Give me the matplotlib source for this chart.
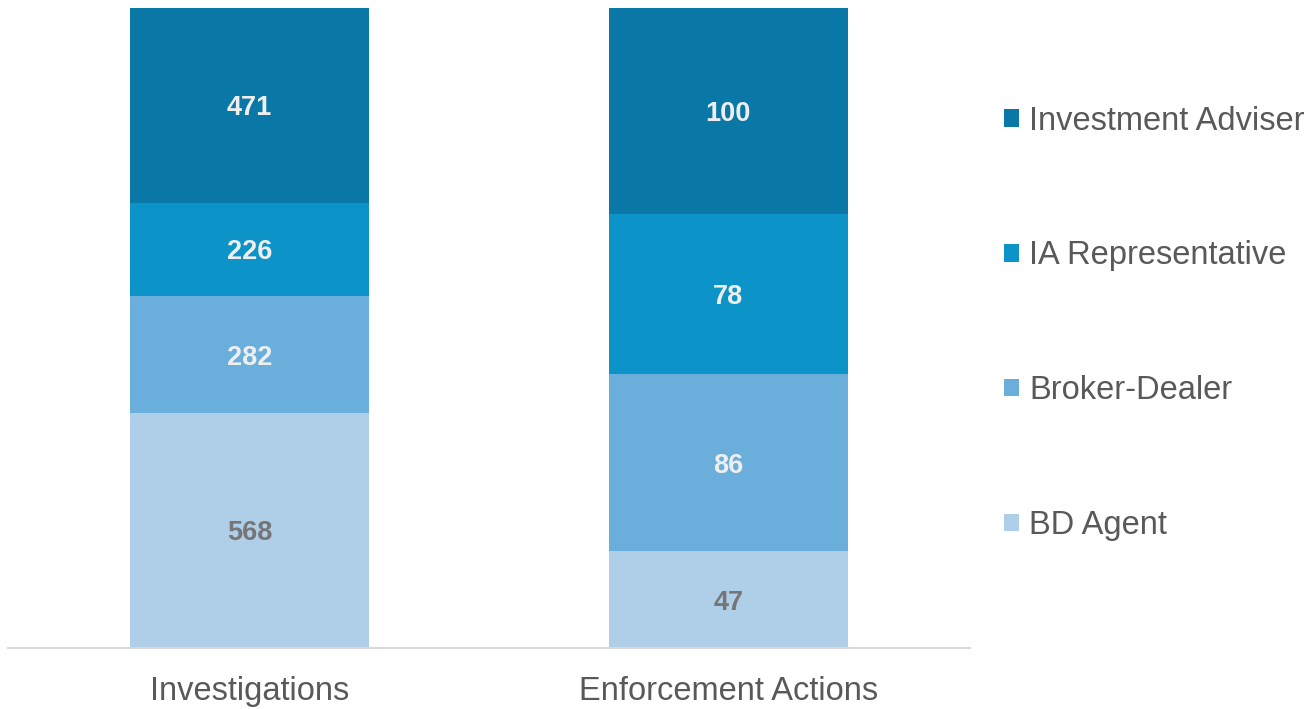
import matplotlib.pyplot as plt
import numpy as np

plt.rcParams['font.family'] = ['Liberation Sans', 'DejaVu Sans']

categories = ['Investigations', 'Enforcement Actions']
series_names = ['BD Agent', 'Broker-Dealer', 'IA Representative', 'Investment Adviser']
bd_agent = [568, 47]
broker_dealer = [282, 86]
ia_rep = [226, 78]
inv_adviser = [471, 100]

colors = ['#AFCEE8', '#6AAFDC', '#0C93C8', '#0A78A6']
label_colors = ['#767676', '#EEEEEE', '#EEEEEE', '#EEEEEE']

values = np.array([bd_agent, broker_dealer, ia_rep, inv_adviser], dtype=float)
totals = values.sum(axis=0)
shares = values / totals * 100

fig = plt.figure(figsize=(13.16, 7.09), dpi=100)
ax = fig.add_axes([0.006, 0.086, 0.731, 0.903])

x = np.arange(len(categories))
bottom = np.zeros(len(categories))
handles = []
for i, name in enumerate(series_names):
    bars = ax.bar(x, shares[i], 0.5, bottom=bottom, color=colors[i], label=name)
    handles.append(bars)
    for j in range(len(categories)):
        ax.text(x[j], bottom[j] + shares[i][j] / 2, str(int(values[i][j])),
                ha='center', va='center_baseline', fontsize=19.5, fontweight='bold',
                color=label_colors[i])
    bottom += shares[i]

ax.set_xlim(-0.505, 1.505)
ax.set_ylim(0, 100)
ax.set_yticks([])
ax.set_xticks(x)
ax.set_xticklabels(categories, fontsize=23.5, color='#595959')
ax.tick_params(axis='x', length=0, pad=20)
for s in ['top', 'right', 'left']:
    ax.spines[s].set_visible(False)
ax.spines['bottom'].set_color('#D9D9D9')
ax.spines['bottom'].set_linewidth(1.5)

leg = fig.legend(handles[::-1], series_names[::-1], loc='upper left',
                 bbox_to_anchor=(0.763, 0.851), frameon=False, fontsize=23.5,
                 handlelength=0.46, handleheight=0.46, handletextpad=0.3,
                 labelspacing=3.18, borderaxespad=0, borderpad=0)
for t in leg.get_texts():
    t.set_color('#595959')

fig.savefig('out.png', dpi=100)
